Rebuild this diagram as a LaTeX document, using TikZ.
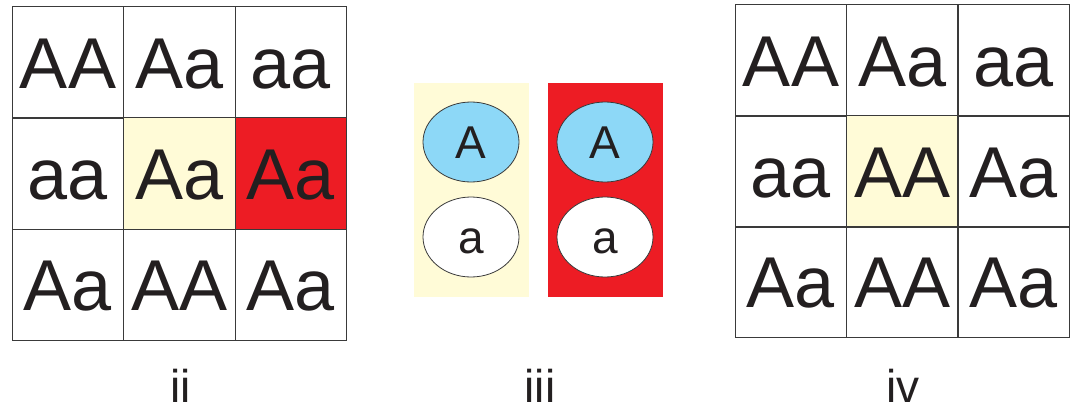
\documentclass[tikz,border=0pt]{standalone}
\usepackage{fontspec}
\setmainfont{Liberation Sans}
\usetikzlibrary{shapes.geometric}
\definecolor{linec}{HTML}{3A3A3A}
\definecolor{txtc}{HTML}{231F20}
\definecolor{paleyel}{HTML}{FFFBD7}
\definecolor{redc}{HTML}{ED1C24}
\definecolor{bluec}{HTML}{8DD8F7}
\tikzset{
  cell/.style={rectangle, draw=linec, line width=1.2pt, minimum width=111.7pt, minimum height=111.3pt,
    inner sep=0pt, text height=51.5pt, text depth=0pt, text=txtc, font=\fontsize{72}{72}\selectfont},
  allele/.style={ellipse, draw=linec, line width=0.8pt, minimum width=96pt, minimum height=80pt,
    inner sep=0pt, text height=33pt, text depth=0pt, text=txtc, font=\fontsize{46}{46}\selectfont},
  panel/.style={rectangle, draw=none, minimum width=115pt, minimum height=214pt, inner sep=0pt},
  lab/.style={text=txtc, font=\fontsize{46}{46}\selectfont, inner sep=0pt, anchor=base}
}
\begin{document}
\begin{tikzpicture}[x=1pt,y=-1pt]
\useasboundingbox (0,0) rectangle (1074,410);
% grid ii
\node[cell] (a11) at (68,62.5) {AA};
\node[cell] (a12) at (179.5,62.5) {Aa};
\node[cell] (a13) at (291,62.5) {aa};
\node[cell] (a21) at (68,173.5) {aa};
\node[cell, fill=paleyel] (a22) at (179.5,173.5) {Aa};
\node[cell, fill=redc] (a23) at (291,173.5) {Aa};
\node[cell] (a31) at (68,285) {Aa};
\node[cell] (a32) at (179.5,285) {AA};
\node[cell] (a33) at (291,285) {Aa};
% middle
\node[panel, fill=paleyel] (p1) at (471.5,190) {};
\node[panel, fill=redc] (p2) at (605.5,190) {};
\node[allele, fill=bluec] (e1) at (471,142) {A};
\node[allele, fill=white] (e2) at (471,237) {a};
\node[allele, fill=bluec] (e3) at (605,142) {A};
\node[allele, fill=white] (e4) at (605,237) {a};
% grid iv
\node[cell] (b11) at (791,60.5) {AA};
\node[cell] (b12) at (902.5,60.5) {Aa};
\node[cell] (b13) at (1013.5,60.5) {aa};
\node[cell] (b21) at (791,171.5) {aa};
\node[cell, fill=paleyel] (b22) at (902.5,171.5) {AA};
\node[cell] (b23) at (1013.5,171.5) {Aa};
\node[cell] (b31) at (791,282) {Aa};
\node[cell] (b32) at (902.5,282) {AA};
\node[cell] (b33) at (1013.5,282) {Aa};
% labels
\node[lab] (l1) at (181,402) {ii};
\node[lab] (l2) at (540,402) {iii};
\node[lab] (l3) at (903,402) {iv};
\end{tikzpicture}
\end{document}
